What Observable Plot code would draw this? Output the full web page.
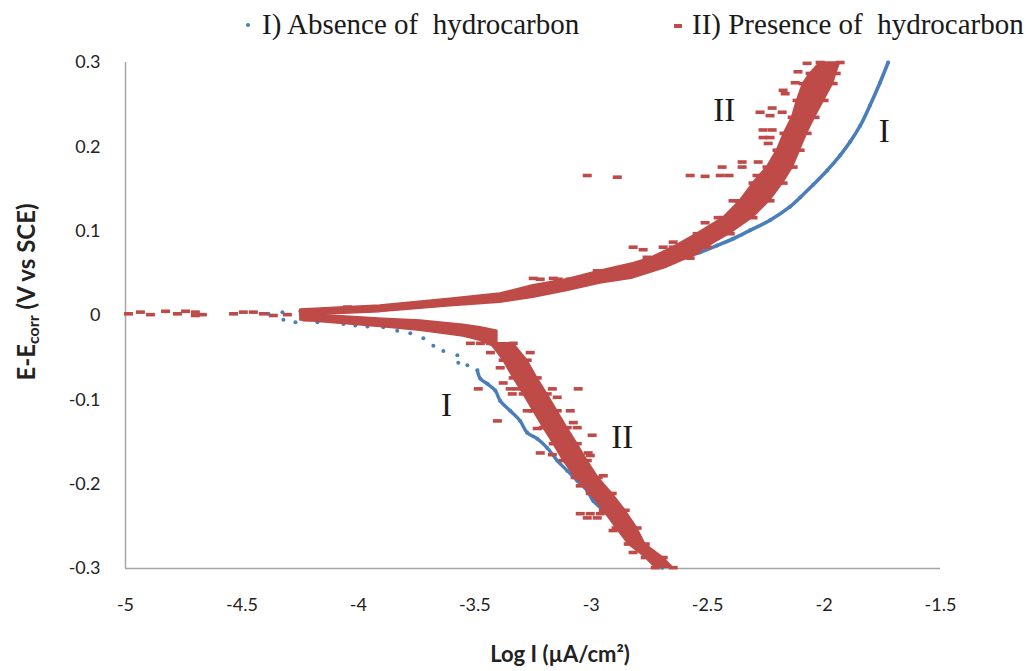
<!DOCTYPE html>
<html>
<head>
<meta charset="utf-8">
<script src="https://cdn.jsdelivr.net/npm/d3@7"></script>
<script src="https://cdn.jsdelivr.net/npm/@observablehq/plot@0.6"></script>
<style>
  body { margin: 0; background: #fff; }
  #wrap { width: 1026px; }
  #legend { position: relative; height: 40px; font-family: "Liberation Serif", serif; font-size: 29px; color: #1a1a1a; }
  #legend span.t { position: absolute; top: 10px; line-height: 1; white-space: pre; }
  #legend span.m { position: absolute; }
</style>
</head>
<body>
<div id="wrap">
  <div id="legend"></div>
  <div id="chart"></div>
</div>
<script>
// ---- tick labels ----
const xTickValues = [-5, -4.5, -4, -3.5, -3, -2.5, -2, -1.5];
const xTickLabels = ["-5", "-4.5", "-4", "-3.5", "-3", "-2.5", "-2", "-1.5"];
const yTickValues = [-0.3, -0.2, -0.1, 0, 0.1, 0.2, 0.3];
const yTickLabels = ["-0.3", "-0.2", "-0.1", "0", "0.1", "0.2", "0.3"];

// ---- series names ----
const seriesNames = ["I) Absence of  hydrocarbon", "II) Presence of  hydrocarbon"];

// ---- Series I (absence): anodic branch ----
const blueAnodicX = [-4.386,-4.326,-4.249,-4.120,-3.991,-3.863,-3.734,-3.605,-3.476,-3.391,-3.249,-3.103,-2.961,-2.820,-2.674,-2.605,-2.532,-2.459,-2.391,-2.318,-2.232,-2.146,-2.103,-2.047,-1.987,-1.931,-1.888,-1.845,-1.803,-1.760,-1.725];
const blueAnodicY = [0.002,0.004,0.005,0.006,0.007,0.010,0.012,0.015,0.018,0.021,0.032,0.039,0.046,0.055,0.063,0.069,0.075,0.083,0.091,0.101,0.113,0.129,0.140,0.155,0.172,0.190,0.206,0.225,0.249,0.276,0.300];

// ---- Series I (absence): cathodic branch ----
const blueCathodicX = [-4.322,-4.270,-4.176,-4.064,-4.013,-3.961,-3.893,-3.833,-3.777,-3.721,-3.678,-3.635,-3.575,-3.571,-3.532,-3.489,-3.476,-3.446,-3.412,-3.391,-3.348,-3.305,-3.275,-3.232,-3.189,-3.146,-3.103,-3.060,-3.017,-2.991,-2.948,-2.906,-2.863,-2.803,-2.760,-2.717,-2.695];
const blueCathodicY = [-0.005,-0.008,-0.008,-0.010,-0.012,-0.013,-0.014,-0.018,-0.021,-0.027,-0.036,-0.042,-0.047,-0.056,-0.059,-0.065,-0.075,-0.081,-0.089,-0.101,-0.113,-0.125,-0.139,-0.146,-0.157,-0.172,-0.184,-0.196,-0.208,-0.220,-0.231,-0.243,-0.255,-0.271,-0.282,-0.294,-0.299];

// ---- Series II (presence): dense band, anodic low part (x, upper E, lower E) ----
const redAnoFlatX   = [-4.249,-3.906,-3.605,-3.391,-3.249,-3.103,-2.961,-2.820,-2.674,-2.532];
const redAnoFlatTop = [0.007,0.012,0.020,0.026,0.036,0.043,0.053,0.062,0.074,0.091];
const redAnoFlatBot = [0.000,0.004,0.011,0.015,0.021,0.029,0.038,0.044,0.057,0.074];

// ---- Series II: dense band, anodic steep part (E, left logI, right logI) ----
const redAnoSteepY     = [0.300,0.287,0.275,0.255,0.235,0.216,0.196,0.176,0.157,0.136,0.116,0.097,0.081,0.068];
const redAnoSteepLeft  = [-2.017,-2.060,-2.090,-2.116,-2.137,-2.172,-2.202,-2.245,-2.305,-2.361,-2.433,-2.545,-2.648,-2.747];
const redAnoSteepRight = [-1.931,-1.948,-1.961,-2.000,-2.039,-2.073,-2.103,-2.133,-2.176,-2.232,-2.305,-2.403,-2.502,-2.575];

// ---- Series II: dense band, cathodic low part ----
const redCatFlatX   = [-4.249,-3.893,-3.734,-3.549,-3.476,-3.403];
const redCatFlatTop = [0.002,-0.004,-0.006,-0.011,-0.014,-0.018];
const redCatFlatBot = [-0.006,-0.014,-0.018,-0.025,-0.030,-0.039];

// ---- Series II: dense band, cathodic steep part ----
const redCatSteepY     = [-0.033,-0.053,-0.074,-0.093,-0.113,-0.133,-0.152,-0.172,-0.192,-0.211,-0.231,-0.252,-0.271,-0.287,-0.299];
const redCatSteepLeft  = [-3.433,-3.378,-3.335,-3.292,-3.249,-3.206,-3.163,-3.120,-3.069,-3.004,-2.948,-2.893,-2.841,-2.768,-2.725];
const redCatSteepRight = [-3.335,-3.275,-3.232,-3.189,-3.146,-3.103,-3.060,-3.017,-2.970,-2.910,-2.854,-2.803,-2.768,-2.691,-2.648];

// ---- Series II: individual readings outside the dense band ----
const redScatterX = [-4.987,-4.936,-4.893,-4.828,-4.777,-4.742,-4.700,-4.700,-4.670,-4.536,-4.494,-4.451,-4.408,-4.365,-4.305,
  -4.236,-4.193,-4.163,-4.107,-4.047,-3.961,-3.893,-3.820,-3.747,-3.678,-3.618,
  -4.219,-4.133,-4.047,-3.961,-3.876,-3.820,-3.747,-3.678,-3.618,
  -3.017,-2.888,-2.575,-2.511,-2.446,-2.408,-2.438,-2.352,-2.352,-2.283,-2.288,-2.262,-2.232,-2.262,-2.223,-2.240,-2.275,-2.232,-2.223,-2.180,-2.176,-2.167,-2.124,-2.112,-2.073,-2.391,-2.369,-2.511,-2.455,-2.648,-2.691,-2.820,-2.777,-2.760,-3.249,-3.219,-3.163,-3.142,-3.090,-2.974,-2.931,
  -3.519,-3.476,-3.433,-3.262,-3.391,-3.378,-3.348,-3.318,-3.485,-3.167,-3.056,-3.146,-3.339,-3.403,-3.275,-3.090,-3.077,-3.060,-2.996,-3.232,-3.219,-3.167,-3.013,-3.004,-2.948,-3.047,-3.047,-3.004,-2.961,-3.017,-2.974,-2.906,-2.845,-2.820];
const redScatterY = [0.002,0.004,0.001,0.005,0.002,0.005,0.004,0.000,0.001,0.002,0.004,0.004,0.002,0.000,0.001,
  0.002,0.004,0.005,0.005,0.010,0.008,0.008,0.010,0.012,0.014,0.014,
  -0.005,-0.004,-0.005,-0.008,-0.010,-0.008,-0.010,-0.012,-0.014,
  0.166,0.164,0.166,0.165,0.166,0.166,0.176,0.182,0.176,0.182,0.166,0.211,0.211,0.220,0.220,0.204,0.241,0.237,0.246,0.241,0.267,0.263,0.276,0.289,0.299,0.136,0.136,0.110,0.116,0.087,0.081,0.081,0.078,0.069,0.044,0.043,0.044,0.043,0.043,0.053,0.053,
  -0.033,-0.033,-0.044,-0.044,-0.062,-0.080,-0.087,-0.087,-0.087,-0.087,-0.087,-0.097,-0.093,-0.125,-0.113,-0.113,-0.127,-0.133,-0.142,-0.134,-0.163,-0.165,-0.163,-0.166,-0.190,-0.202,-0.235,-0.235,-0.235,-0.240,-0.240,-0.255,-0.259,-0.281];

// ---- curve labels ----
const curveLabels = ["II", "I", "I", "II"];
const curveLabelX = [-2.429, -1.742, -3.622, -2.867];
const curveLabelY = [0.243, 0.218, -0.107, -0.145];

// ---- build tables ----
const zip2 = (xs, ys) => xs.map((x, i) => ({x, y: ys[i]}));
const blueAnodic = zip2(blueAnodicX, blueAnodicY);
const blueCathodic = zip2(blueCathodicX, blueCathodicY);
const blueAll = blueAnodic.concat(blueCathodic);
const redAnoFlat = redAnoFlatX.map((x, i) => ({x, y1: redAnoFlatBot[i], y2: redAnoFlatTop[i]}));
const redAnoSteep = redAnoSteepY.map((y, i) => ({y, x1: redAnoSteepLeft[i], x2: redAnoSteepRight[i]}));
const redCatFlat = redCatFlatX.map((x, i) => ({x, y1: redCatFlatBot[i], y2: redCatFlatTop[i]}));
const redCatSteep = redCatSteepY.map((y, i) => ({y, x1: redCatSteepLeft[i], x2: redCatSteepRight[i]}));
const redScatter = zip2(redScatterX, redScatterY);
const labels = curveLabels.map((t, i) => ({t, x: curveLabelX[i], y: curveLabelY[i]}));
// steep band edge readings also shown as individual dashes (ragged edges)
const redEdges = [
  ...redAnoSteep.flatMap(d => [{x: d.x1, y: d.y}, {x: d.x2, y: d.y}]),
  ...redCatSteep.flatMap(d => [{x: d.x1, y: d.y}, {x: d.x2, y: d.y}])
];

const BLUE = "#4a7ebb";
const RED = "#be4b48";
const dash = { draw(ctx) { ctx.rect(-4.5, -1.8, 9, 3.6); } };

const plot = Plot.plot({
  width: 1026,
  height: 631,
  marginLeft: 125,
  marginRight: 86,
  marginTop: 22,
  marginBottom: 103,
  style: { fontFamily: "Lato, 'Open Sans', sans-serif", fontSize: "18px", color: "#222", background: "#fff" },
  x: { domain: [-5, -1.5] },
  y: { domain: [-0.3, 0.3] },
  marks: [
    Plot.axisX({ ticks: xTickValues, tickFormat: d => xTickLabels[xTickValues.indexOf(d)], tickSize: 0, tickPadding: 30, label: null, fill: "#222" }),
    Plot.axisY({ ticks: yTickValues, tickFormat: d => yTickLabels[yTickValues.indexOf(d)], tickSize: 0, tickPadding: 25, label: null, fill: "#222" }),
    Plot.ruleX([-5], { stroke: "#a6a6a6", strokeWidth: 1.5 }),
    Plot.ruleY([-0.3], { stroke: "#a6a6a6", strokeWidth: 1.5 }),
    // Series I
    Plot.line(blueAnodic, { x: "x", y: "y", stroke: BLUE, strokeWidth: 3.6, curve: "catmull-rom", filter: d => d.x > -3.5 }),
    Plot.line(blueCathodic, { x: "x", y: "y", stroke: BLUE, strokeWidth: 3.4, curve: "catmull-rom", filter: d => d.x > -3.5 }),
    Plot.dot(blueAll, { x: "x", y: "y", r: 2, fill: BLUE, stroke: "none" }),
    // Series II
    Plot.areaY(redAnoFlat, { x: "x", y1: "y1", y2: "y2", fill: RED, stroke: RED, strokeWidth: 1.5 }),
    Plot.areaX(redAnoSteep, { y: "y", x1: "x1", x2: "x2", fill: RED, stroke: RED, strokeWidth: 1.5 }),
    Plot.areaY(redCatFlat, { x: "x", y1: "y1", y2: "y2", fill: RED, stroke: RED, strokeWidth: 1.5 }),
    Plot.areaX(redCatSteep, { y: "y", x1: "x1", x2: "x2", fill: RED, stroke: RED, strokeWidth: 1.5 }),
    Plot.dot(redEdges, { x: "x", y: "y", symbol: dash, fill: RED, stroke: "none" }),
    Plot.dot(redScatter, { x: "x", y: "y", symbol: dash, fill: RED, stroke: "none" }),
    Plot.text(labels, { x: "x", y: "y", text: "t", fontFamily: "'Liberation Serif', serif", fontSize: 33, fill: "#1a1a1a" })
  ]
});

const svg = d3.select(plot);
// y axis title with subscript
const yt = svg.append("text")
  .attr("transform", "translate(35,252) rotate(-90)")
  .attr("text-anchor", "middle")
  .attr("font-family", "Lato, 'Open Sans', sans-serif")
  .attr("font-weight", "bold")
  .attr("font-size", 24)
  .attr("fill", "#222");
yt.append("tspan").text("E-E");
yt.append("tspan").attr("font-size", 16).attr("dy", 4).text("corr");
yt.append("tspan").attr("dy", -4).text(" (V vs SCE)");
// x axis title
svg.append("text")
  .attr("x", 560).attr("y", 622)
  .attr("text-anchor", "middle")
  .attr("font-family", "Lato, 'Open Sans', sans-serif")
  .attr("font-weight", "bold")
  .attr("font-size", 22)
  .attr("fill", "#222")
  .text("Log I (µA/cm²)");

document.getElementById("chart").appendChild(plot);

// legend
const lg = document.getElementById("legend");
lg.innerHTML =
  `<span class="m" style="left:246px;top:23px;width:4px;height:4px;border-radius:2px;background:${BLUE}"></span>` +
  `<span class="t" style="left:262px">${seriesNames[0]}</span>` +
  `<span class="m" style="left:674px;top:24px;width:8px;height:4px;background:${RED}"></span>` +
  `<span class="t" style="left:692px">${seriesNames[1]}</span>`;
</script>
</body>
</html>
